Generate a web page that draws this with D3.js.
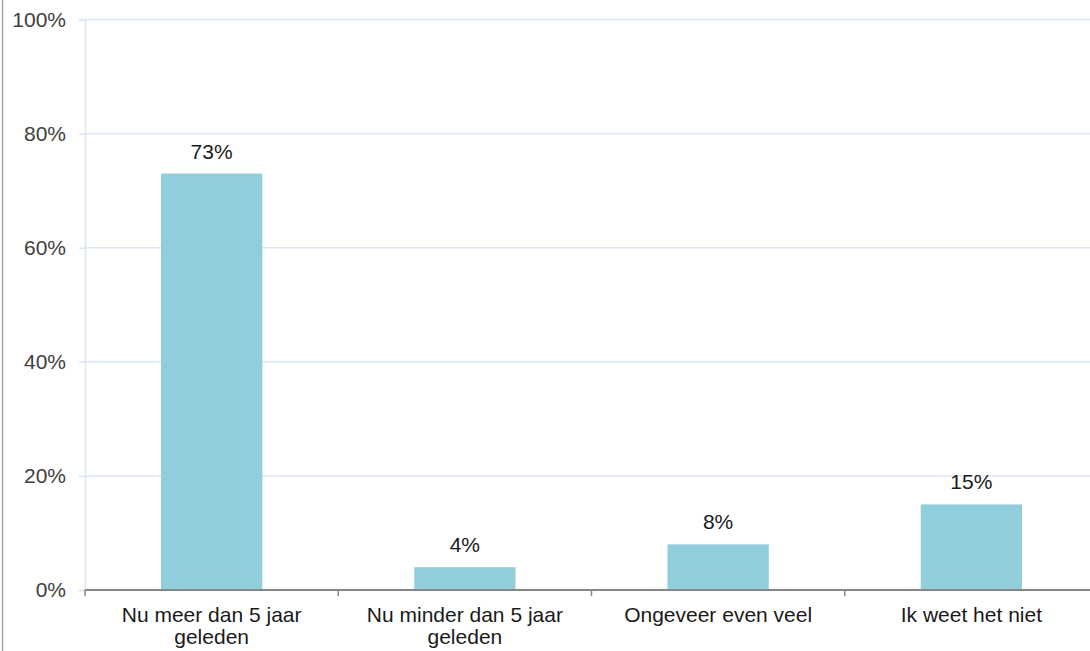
<!DOCTYPE html>
<html><head><meta charset="utf-8">
<script src="https://cdn.jsdelivr.net/npm/d3@7"></script>
<style>body{margin:0;background:#fff;}svg{display:block;}</style>
</head><body>
<svg id="c" width="1090" height="651"></svg>
<script>
const categories = [["Nu meer dan 5 jaar","geleden"],["Nu minder dan 5 jaar","geleden"],["Ongeveer even veel"],["Ik weet het niet"]];
const values = [73, 4, 8, 15];
const yTicks = [0, 20, 40, 60, 80, 100];
const yTickLabels = ["0%","20%","40%","60%","80%","100%"];

(function(){
const svg = d3.select("#c");
const mLeft = 85, mRight = 1098, mTop = 19.5, mBottom = 590;
const x = d3.scaleBand().domain(d3.range(categories.length)).range([mLeft, mRight]).paddingInner(0).paddingOuter(0);
const y = d3.scaleLinear().domain([0, 100]).range([mBottom, mTop]);
const font = "Liberation Sans, Arial, sans-serif";
const fs = 21;

svg.append("line").attr("x1",2.5).attr("x2",2.5).attr("y1",0).attr("y2",651).attr("stroke","#a6a6a6").attr("stroke-width",1.5);

// gridlines
svg.append("g").selectAll("line").data(yTicks.filter(d=>d>0)).join("line")
  .attr("x1", mLeft).attr("x2", 1090).attr("y1", d=>y(d)).attr("y2", d=>y(d))
  .attr("stroke","#dce6f2").attr("stroke-width",1.5);

// y axis
const yAxis = d3.axisLeft(y).tickValues(yTicks).tickFormat((d,i)=>yTickLabels[i]).tickSize(6).tickPadding(13);
const gy = svg.append("g").attr("transform",`translate(${mLeft},0)`).call(yAxis);
gy.select(".domain").attr("stroke","#dce6f2").attr("stroke-width",1.5);
gy.selectAll(".tick line").attr("stroke","#dce6f2").attr("stroke-width",1.5);
gy.selectAll(".tick text").attr("font-family",font).attr("font-size",fs).attr("fill","#404040");

// bars
const bw = x.bandwidth()*0.4;
svg.append("g").selectAll("rect").data(values).join("rect")
  .attr("x",(d,i)=>x(i)+x.bandwidth()/2-bw/2).attr("width",bw)
  .attr("y",d=>y(d)).attr("height",d=>y(0)-y(d)).attr("fill","#92cddc");

// value labels
svg.append("g").selectAll("text").data(values).join("text")
  .attr("x",(d,i)=>x(i)+x.bandwidth()/2).attr("y",d=>y(d)-15)
  .attr("text-anchor","middle").attr("font-family",font).attr("font-size",fs).attr("fill","#1a1a1a")
  .text(d=>d+"%");

// x axis
const gx = svg.append("g").attr("transform",`translate(0,${mBottom})`);
gx.append("line").attr("x1",mLeft).attr("x2",mRight).attr("stroke","#868686").attr("stroke-width",2);
gx.selectAll("line.tk").data(d3.range(categories.length+1)).join("line").attr("class","tk")
  .attr("x1",i=>i<categories.length?x(i):mRight).attr("x2",i=>i<categories.length?x(i):mRight)
  .attr("y1",0).attr("y2",6).attr("stroke","#868686").attr("stroke-width",1.5);
const lbl = gx.selectAll("text").data(categories).join("text")
  .attr("text-anchor","middle").attr("font-family",font).attr("font-size",fs).attr("fill","#1a1a1a");
lbl.each(function(d,i){
  const t = d3.select(this);
  d.forEach((s,j)=>t.append("tspan").attr("x",x(i)+x.bandwidth()/2).attr("y",32+j*22).text(s));
});
})();
</script>
</body></html>
